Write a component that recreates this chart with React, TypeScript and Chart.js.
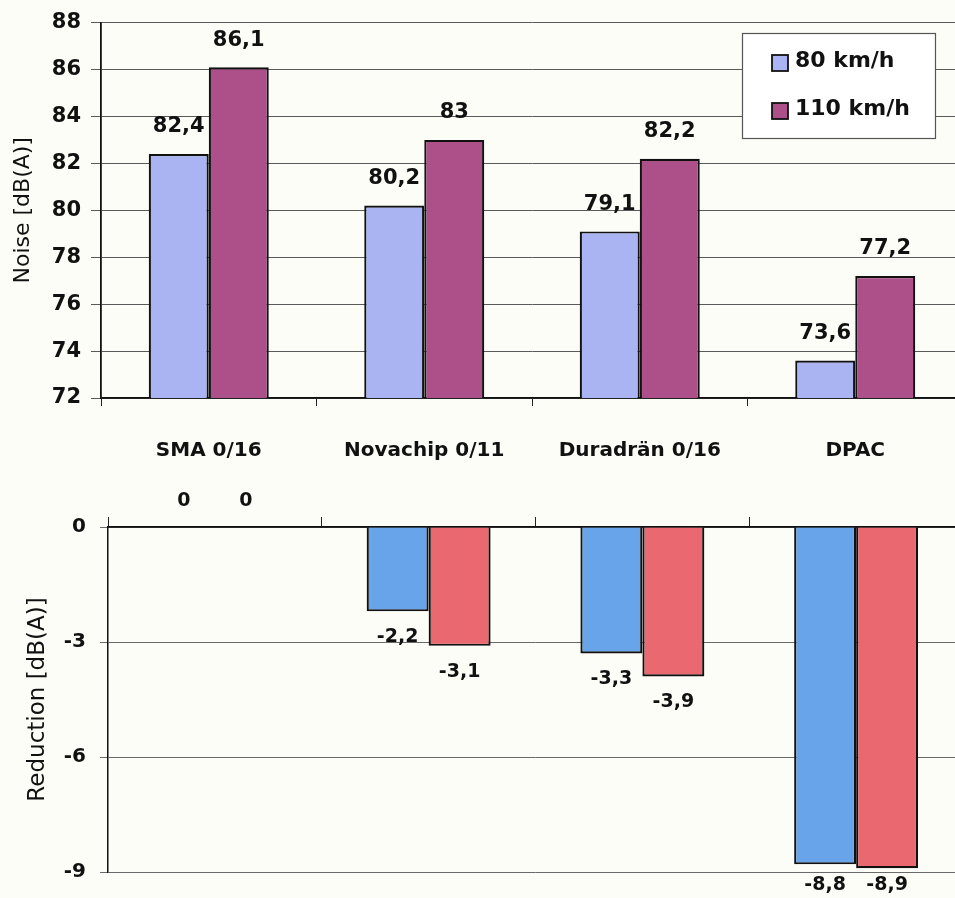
import React, { useEffect, useRef } from "react";
import { Chart, registerables } from "chart.js";

Chart.register(...registerables);

const categories = ["SMA 0/16", "Novachip 0/11", "Duradrän 0/16", "DPAC"];
const seriesNames = ["80 km/h", "110 km/h"];
const noise80 = [82.4, 80.2, 79.1, 73.6];
const noise110 = [86.1, 83, 82.2, 77.2];
const reduction80 = [0, -2.2, -3.3, -8.8];
const reduction110 = [0, -3.1, -3.9, -8.9];
const noiseAxis = { min: 72, max: 88, step: 2 };
const reductionAxis = { min: -9, max: 0, step: 3 };

const FAMILY = "'DejaVu Sans', 'Liberation Sans', Arial, sans-serif";
const BG = "#fdfdf8";
const topColors = ["#aab4f2", "#ad5089"];
const bottomColors = ["#68a4ea", "#ea6870"];

const fmt = (v: number) => String(v).replace(".", ",");

const valueLabels = (size: number, offset: number) => ({
  id: "valueLabels",
  afterDatasetsDraw(chart: any) {
    const ctx = chart.ctx;
    ctx.save();
    ctx.font = `bold ${size}px ${FAMILY}`;
    ctx.fillStyle = "#111";
    ctx.textAlign = "center";
    ctx.textBaseline = "middle";
    chart.data.datasets.forEach((ds: any, i: number) => {
      const meta = chart.getDatasetMeta(i);
      meta.data.forEach((bar: any, j: number) => {
        const v = ds.data[j];
        const p = bar.getProps(["x", "y"], true);
        let ty = v >= 0 ? p.y - offset : p.y + offset;
        ty = Math.min(ty, chart.height - 13);
        ctx.fillText(fmt(v), p.x, ty);
      });
    });
    ctx.restore();
  },
});

const boxLegend = {
  id: "boxLegend",
  afterDraw(chart: any) {
    const ctx = chart.ctx;
    ctx.save();
    ctx.fillStyle = "#ffffff";
    ctx.fillRect(742, 33, 193, 105);
    ctx.strokeStyle = "#555";
    ctx.lineWidth = 1.2;
    ctx.strokeRect(742.5, 33.5, 193, 105);
    const rows = [63, 111];
    ctx.font = `bold 22px ${FAMILY}`;
    ctx.textAlign = "left";
    ctx.textBaseline = "middle";
    chart.data.datasets.forEach((ds: any, i: number) => {
      const cy = rows[i];
      ctx.fillStyle = ds.backgroundColor;
      ctx.fillRect(772, cy - 8, 16, 16);
      ctx.strokeStyle = "#111";
      ctx.lineWidth = 1.8;
      ctx.strokeRect(772, cy - 8, 16, 16);
      ctx.fillStyle = "#111";
      ctx.fillText(ds.label, 795, cy - 2);
    });
    ctx.restore();
  },
};

function NoiseChart() {
  const ref = useRef<HTMLCanvasElement>(null);
  useEffect(() => {
    const chart = new Chart(ref.current as HTMLCanvasElement, {
      type: "bar",
      data: {
        labels: categories,
        datasets: [
          { label: seriesNames[0], data: noise80, backgroundColor: topColors[0], borderColor: "#111", borderWidth: 2.2, categoryPercentage: 0.557, barPercentage: 1 },
          { label: seriesNames[1], data: noise110, backgroundColor: topColors[1], borderColor: "#111", borderWidth: 2.2, categoryPercentage: 0.557, barPercentage: 1 },
        ],
      },
      options: {
        animation: false,
        responsive: false,
        maintainAspectRatio: false,
        layout: { padding: { top: 19, right: 2, left: 0, bottom: 0 } },
        plugins: { legend: { display: false }, tooltip: { enabled: false } },
        scales: {
          x: {
            grid: { display: true, drawOnChartArea: false, drawTicks: true, tickLength: 8, color: "#222", offset: true },
            border: { display: true, color: "#111", width: 1.8 },
            ticks: { color: "#111", font: { family: FAMILY, weight: "bold", size: 20 }, padding: 33, maxRotation: 0, autoSkip: false },
            afterFit: (s: any) => { s.height = 82; },
          },
          y: {
            min: noiseAxis.min,
            max: noiseAxis.max,
            ticks: { stepSize: noiseAxis.step, color: "#111", font: { family: FAMILY, weight: "bold", size: 21 }, padding: 10 },
            grid: { color: "#5a5a5a", lineWidth: 1, tickLength: 10, drawTicks: true },
            border: { color: "#111", width: 1.8 },
            title: { display: true, text: "Noise [dB(A)]", color: "#111", font: { family: FAMILY, size: 22 }, padding: { top: 10, bottom: 0 } },
            afterFit: (s: any) => { s.width = 101; },
          },
        },
      } as any,
      plugins: [valueLabels(21, 27), boxLegend],
    });
    return () => chart.destroy();
  }, []);
  return <canvas ref={ref} width={965} height={480} style={{ display: "block", position: "absolute", left: 0, top: 0 }} />;
}

function ReductionChart() {
  const ref = useRef<HTMLCanvasElement>(null);
  useEffect(() => {
    const chart = new Chart(ref.current as HTMLCanvasElement, {
      type: "bar",
      data: {
        labels: categories,
        datasets: [
          { label: seriesNames[0], data: reduction80, backgroundColor: bottomColors[0], borderColor: "#111", borderWidth: 2.2, categoryPercentage: 0.58, barPercentage: 1 },
          { label: seriesNames[1], data: reduction110, backgroundColor: bottomColors[1], borderColor: "#111", borderWidth: 2.2, categoryPercentage: 0.58, barPercentage: 1 },
        ],
      },
      options: {
        animation: false,
        responsive: false,
        maintainAspectRatio: false,
        layout: { padding: { top: 0, right: 2, left: 0, bottom: 22 } },
        plugins: { legend: { display: false }, tooltip: { enabled: false } },
        scales: {
          x: {
            position: "top",
            grid: { display: true, drawOnChartArea: false, drawTicks: true, tickLength: 10, color: "#222", offset: true },
            border: { display: true, color: "#111", width: 1.8 },
            ticks: { display: false },
            afterFit: (s: any) => { s.height = 47; },
          },
          y: {
            min: reductionAxis.min,
            max: reductionAxis.max,
            ticks: { stepSize: reductionAxis.step, color: "#111", font: { family: FAMILY, weight: "bold", size: 20 }, padding: 14 },
            grid: { color: "#6a6a6a", lineWidth: 1, tickLength: 8, drawTicks: true },
            border: { color: "#111", width: 1.5 },
            title: { display: true, text: "Reduction [dB(A)]", color: "#111", font: { family: FAMILY, size: 23 }, padding: { top: 24, bottom: 0 } },
            afterFit: (s: any) => { s.width = 108; },
          },
        },
      } as any,
      plugins: [valueLabels(19, 26)],
    });
    return () => chart.destroy();
  }, []);
  return <canvas ref={ref} width={965} height={418} style={{ display: "block", position: "absolute", left: 0, top: 480 }} />;
}

export default function App() {
  return (
    <div style={{ position: "absolute", left: 0, top: 0, width: 955, height: 898, overflow: "hidden", background: BG }}>
      <NoiseChart />
      <ReductionChart />
    </div>
  );
}
